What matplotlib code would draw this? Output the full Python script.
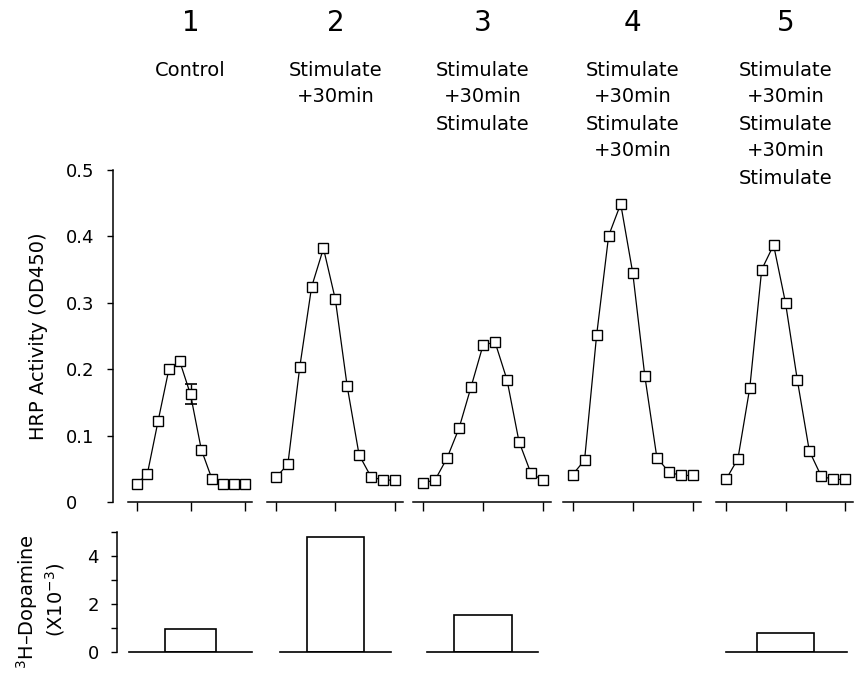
import numpy as np
import matplotlib
matplotlib.use('Agg')
import matplotlib.pyplot as plt

plt.rcParams['font.family'] = ['DejaVu Sans']
plt.rcParams['mathtext.fontset'] = 'dejavusans'

# fraction number along each elution profile
fractions = list(range(1, 12))

# HRP activity (OD450) per fraction, one list per condition
hrp_1 = [0.027, 0.042, 0.122, 0.200, 0.212, 0.162, 0.079, 0.034, 0.027, 0.027, 0.027]
hrp_2 = [0.037, 0.057, 0.203, 0.324, 0.382, 0.305, 0.174, 0.071, 0.038, 0.033, 0.033]
hrp_3 = [0.029, 0.033, 0.066, 0.111, 0.173, 0.236, 0.241, 0.184, 0.091, 0.043, 0.033]
hrp_4 = [0.041, 0.063, 0.251, 0.401, 0.449, 0.345, 0.190, 0.067, 0.045, 0.040, 0.040]
hrp_5 = [0.034, 0.065, 0.172, 0.350, 0.387, 0.300, 0.183, 0.077, 0.039, 0.034, 0.034]
hrp = [hrp_1, hrp_2, hrp_3, hrp_4, hrp_5]

# one error bar shown in the control panel
err_fraction = 6
err_half = 0.015

# 3H-dopamine release (x10^-3), none measured for panel 4
dopamine = [0.95, 4.78, 1.55, np.nan, 0.81]

panel_numbers = ['1', '2', '3', '4', '5']
conditions = [
    ['Control'],
    ['Stimulate', '+30min'],
    ['Stimulate', '+30min', 'Stimulate'],
    ['Stimulate', '+30min', 'Stimulate', '+30min'],
    ['Stimulate', '+30min', 'Stimulate', '+30min', 'Stimulate'],
]

# layout (pixels): position of fraction 1 and pixels per fraction
W, H = 858, 676
x_first = [136.5, 276, 423, 572.5, 726]
x_step = [10.8, 11.87, 12.0, 12.05, 11.9]
base_span = [(0.3, 11.7), (1.34, 10.69), (1.33, 10.58), None, (1.0, 11.17)]
lo, hi = 0.2, 11.7

fig = plt.figure(figsize=(W / 100, H / 100), dpi=100)

for i in range(5):
    left = (x_first[i] + (lo - 1) * x_step[i]) / W
    width = (hi - lo) * x_step[i] / W

    # upper panel: HRP profile
    ax = fig.add_axes([left, (H - 502) / H, width, 332 / H])
    ax.plot(fractions, hrp[i], color='black', lw=0.9, marker='s', ms=7.5,
            mfc='white', mec='black', mew=1.0, zorder=3)
    if i == 0:
        ax.errorbar(err_fraction, hrp[0][err_fraction - 1], yerr=err_half,
                    fmt='none', ecolor='black', elinewidth=1.0, capsize=4.5,
                    capthick=1.2, zorder=2)
    ax.set_xlim(lo, hi)
    ax.set_ylim(0, 0.5)
    ax.set_xticks([1, 6, 11])
    ax.set_xticklabels([])
    ax.tick_params(axis='x', direction='out', length=6.5, width=1.0)
    for s in ['top', 'right']:
        ax.spines[s].set_visible(False)
    ax.spines['bottom'].set_linewidth(1.1)
    if i == 0:
        ax.spines['left'].set_position(('outward', 10.8))
        ax.spines['left'].set_linewidth(1.1)
        ax.set_yticks([0, 0.1, 0.2, 0.3, 0.4, 0.5])
        ax.set_yticklabels(['0', '0.1', '0.2', '0.3', '0.4', '0.5'])
        ax.tick_params(axis='y', direction='out', length=4, width=1.0,
                       labelsize=13, pad=30)
        for lab in ax.get_yticklabels():
            lab.set_horizontalalignment('left')
    else:
        ax.spines['left'].set_visible(False)
        ax.set_yticks([])

    # lower panel: dopamine release
    bx = fig.add_axes([left, (H - 652) / H, width, 120 / H])
    bx.set_xlim(lo, hi)
    bx.set_ylim(0, 5)
    bx.set_xticks([])
    for s in ['top', 'right']:
        bx.spines[s].set_visible(False)
    if np.isnan(dopamine[i]):
        bx.spines['bottom'].set_visible(False)
    else:
        bx.bar(6, dopamine[i], width=4.8, color='white', edgecolor='black',
               linewidth=1.2)
        bx.spines['bottom'].set_bounds(*base_span[i])
        bx.spines['bottom'].set_linewidth(1.2)
    if i == 0:
        bx.spines['left'].set_position(('outward', 8))
        bx.spines['left'].set_linewidth(1.1)
        bx.set_yticks([0, 1, 2, 3, 4, 5])
        bx.set_yticklabels(['0', '', '2', '', '4', ''])
        bx.tick_params(axis='y', direction='out', length=4, width=1.0,
                       labelsize=13, pad=9)
    else:
        bx.spines['left'].set_visible(False)
        bx.set_yticks([])

    # headings
    cx = (x_first[i] + 5 * x_step[i]) / W
    fig.text(cx, 1 - 23 / H, panel_numbers[i], ha='center', va='center',
             fontsize=20)
    for j, line in enumerate(conditions[i]):
        fig.text(cx, 1 - (70 + 27 * j) / H, line, ha='center', va='center',
                 fontsize=14)

fig.text(39 / W, 1 - 336 / H, 'HRP Activity (OD450)', rotation=90,
         ha='center', va='center', fontsize=14)
fig.text(27 / W, 1 - 602 / H, '$^{3}$H\u2013Dopamine', rotation=90,
         ha='center', va='center', fontsize=14)
fig.text(55 / W, 1 - 600 / H, '(X10$^{-3}$)', rotation=90,
         ha='center', va='center', fontsize=14)

fig.savefig('out.png', dpi=100, facecolor='white')
